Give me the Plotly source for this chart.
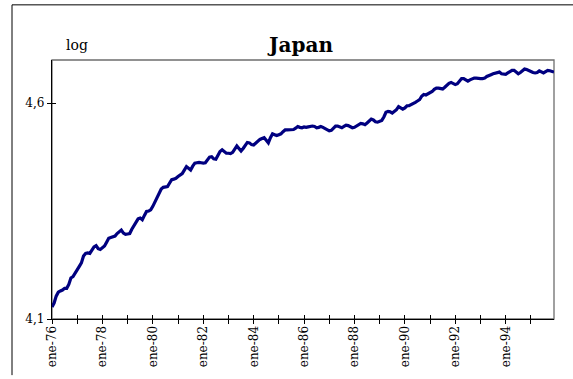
import plotly.graph_objects as go

# Japan: monthly index in logs, January 1976 to December 1995
log_index = [
    # 1976
    4.128, 4.137, 4.153, 4.162, 4.165, 4.167, 4.171, 4.171, 4.180, 4.195, 4.198, 4.207,
    # 1977
    4.216, 4.222, 4.230, 4.246, 4.252, 4.253, 4.252, 4.260, 4.267, 4.270, 4.263, 4.261,
    # 1978
    4.264, 4.269, 4.278, 4.287, 4.289, 4.291, 4.292, 4.298, 4.303, 4.306, 4.299, 4.296,
    # 1979
    4.297, 4.298, 4.308, 4.317, 4.325, 4.332, 4.334, 4.330, 4.340, 4.349, 4.350, 4.353,
    # 1980
    4.361, 4.371, 4.383, 4.392, 4.401, 4.405, 4.407, 4.407, 4.415, 4.423, 4.424, 4.426,
    # 1981
    4.430, 4.433, 4.437, 4.445, 4.453, 4.449, 4.445, 4.454, 4.461, 4.462, 4.463, 4.462,
    # 1982
    4.461, 4.462, 4.468, 4.475, 4.476, 4.471, 4.470, 4.479, 4.488, 4.492, 4.487, 4.484,
    # 1983
    4.484, 4.483, 4.486, 4.495, 4.501, 4.495, 4.489, 4.495, 4.503, 4.509, 4.508, 4.504,
    # 1984
    4.503, 4.508, 4.513, 4.516, 4.518, 4.520, 4.514, 4.508, 4.520, 4.529, 4.527, 4.525,
    # 1985
    4.527, 4.529, 4.534, 4.538, 4.538, 4.538, 4.538, 4.539, 4.542, 4.546, 4.544, 4.543,
    # 1986
    4.545, 4.544, 4.545, 4.546, 4.547, 4.546, 4.543, 4.544, 4.546, 4.544, 4.541, 4.538,
    # 1987
    4.536, 4.537, 4.542, 4.547, 4.547, 4.545, 4.543, 4.546, 4.549, 4.548, 4.546, 4.543,
    # 1988
    4.544, 4.547, 4.552, 4.553, 4.552, 4.550, 4.554, 4.559, 4.563, 4.561, 4.557, 4.556,
    # 1989
    4.558, 4.560, 4.568, 4.579, 4.581, 4.580, 4.577, 4.580, 4.585, 4.592, 4.589, 4.586,
    # 1990
    4.589, 4.594, 4.594, 4.596, 4.599, 4.602, 4.605, 4.608, 4.616, 4.620, 4.619, 4.621,
    # 1991
    4.624, 4.627, 4.632, 4.635, 4.635, 4.633, 4.633, 4.637, 4.642, 4.646, 4.648, 4.646,
    # 1992
    4.643, 4.645, 4.651, 4.657, 4.657, 4.654, 4.651, 4.654, 4.657, 4.658, 4.658, 4.657,
    # 1993
    4.657, 4.657, 4.658, 4.662, 4.665, 4.666, 4.668, 4.670, 4.671, 4.672, 4.668, 4.667,
    # 1994
    4.667, 4.670, 4.673, 4.676, 4.676, 4.673, 4.668, 4.671, 4.676, 4.679, 4.678, 4.675,
    # 1995
    4.673, 4.671, 4.670, 4.671, 4.675, 4.673, 4.670, 4.673, 4.676, 4.675, 4.673, 4.672,
]

years = list(range(1976, 1996))
year_labels = ["ene-76", "", "ene-78", "", "ene-80", "", "ene-82", "", "ene-84", "",
               "ene-86", "", "ene-88", "", "ene-90", "", "ene-92", "", "ene-94", ""]
y_ticks = [4.1, 4.6]
y_range = [4.1, 4.7]

months = list(range(len(log_index)))
year_starts = [12 * i for i in range(len(years))]
x_range = [0, len(log_index) - 1]

SERIF = "DejaVu Serif"
NAVY = "#000080"

fig = go.Figure()
fig.add_trace(go.Scatter(
    x=months, y=log_index, mode="lines",
    line=dict(color=NAVY, width=3.2),
    showlegend=False, hoverinfo="skip",
))
# same series on the overlay axes (invisible) so the inward tick marks render
fig.add_trace(go.Scatter(
    x=months, y=log_index, mode="lines", xaxis="x2", yaxis="y2",
    line=dict(color="rgba(0,0,0,0)", width=0),
    showlegend=False, hoverinfo="skip",
))

axis_common = dict(showgrid=False, zeroline=False, tickcolor="black", tickwidth=1)

fig.update_layout(
    width=573, height=379,
    margin=dict(l=52, r=19, t=60, b=56, pad=0),
    paper_bgcolor="white", plot_bgcolor="white",
    separators=",.",
    font=dict(family=SERIF, size=12, color="black"),
    title=dict(
        text="<b>Japan</b>",
        font=dict(family=SERIF, size=20, color="black"),
        x=301 / 573, xanchor="center", xref="container",
        y=1 - 45 / 379, yanchor="middle", yref="container",
    ),
    xaxis=dict(
        **axis_common, range=x_range,
        tickmode="array", tickvals=year_starts, ticktext=year_labels,
        ticks="outside", ticklen=4, tickangle=-90, ticklabelstandoff=-3,
        tickfont=dict(family=SERIF, size=12, color="black"),
        showline=True, linecolor="black", linewidth=1.3,
    ),
    yaxis=dict(
        **axis_common, range=y_range,
        tickmode="array", tickvals=y_ticks, tickformat=".1f",
        ticks="outside", ticklen=4,
        tickfont=dict(family=SERIF, size=12, color="black"),
        showline=True, linecolor="black", linewidth=1.3,
    ),
    xaxis2=dict(
        **axis_common, range=x_range, overlaying="x", anchor="y", side="bottom",
        tickmode="array", tickvals=year_starts,
        ticks="inside", ticklen=4, showticklabels=False, showline=False,
    ),
    yaxis2=dict(
        **axis_common, range=y_range, overlaying="y", anchor="x", side="left",
        tickmode="array", tickvals=y_ticks,
        ticks="inside", ticklen=4, showticklabels=False, showline=False,
    ),
    annotations=[dict(
        text="log", xref="paper", yref="paper",
        x=(64 - 52) / 502, xanchor="left",
        y=(323 - 45) / 263, yanchor="middle",
        showarrow=False, font=dict(family=SERIF, size=14, color="black"),
    )],
    shapes=[
        # plot-area frame (top and right sides show in grey)
        dict(type="rect", xref="paper", yref="paper", x0=0, x1=1, y0=0, y1=1,
             line=dict(color="#6e6e6e", width=1.3), layer="below"),
        # outer chart border: top and left edges
        dict(type="line", xref="paper", yref="paper",
             x0=(12 - 52) / 502, x1=(573 - 52) / 502,
             y0=(323 - 4) / 263, y1=(323 - 4) / 263,
             line=dict(color="black", width=1)),
        dict(type="line", xref="paper", yref="paper",
             x0=(12 - 52) / 502, x1=(12 - 52) / 502,
             y0=(323 - 4) / 263, y1=(323 - 380) / 263,
             line=dict(color="black", width=1)),
    ],
)

fig.write_html("out.html")
